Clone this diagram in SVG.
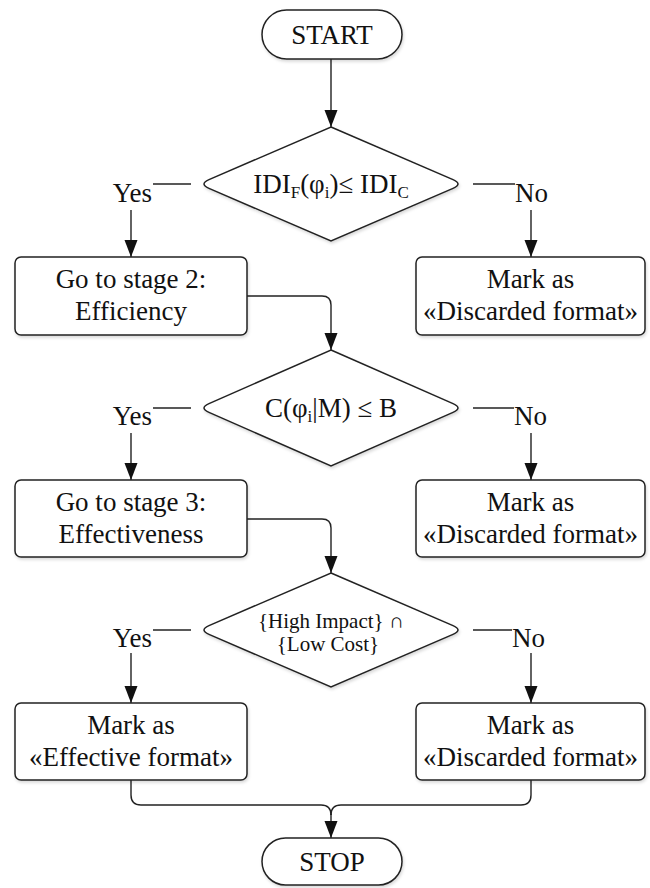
<svg xmlns="http://www.w3.org/2000/svg" width="650" height="888" viewBox="0 0 650 888">
<defs>
<marker id="arr" markerUnits="userSpaceOnUse" markerWidth="18" markerHeight="14" refX="17" refY="6.5" orient="auto">
<path d="M0,0 L17,6.5 L0,13 Z" fill="#111"/>
</marker>
<filter id="sh" x="-10%" y="-10%" width="120%" height="130%">
<feDropShadow dx="1" dy="2" stdDeviation="1.5" flood-color="#000" flood-opacity="0.15"/>
</filter>
</defs>
<style>
.shape{fill:#fff;stroke:#222;stroke-width:1.5;filter:url(#sh)}
text{font-family:'Liberation Serif','Tinos','DejaVu Serif',serif;fill:#111}
.t{font-size:27px;text-anchor:middle}
.s{font-size:17px}
.sm{font-size:21px;text-anchor:middle}
.lbl{font-size:27px}
.c{fill:none;stroke:#222;stroke-width:1.4}
.a{marker-end:url(#arr)}
</style>
<rect width="650" height="888" fill="#fff"/>

<g id="connectors">
<path class="c a" d="M331,59 V127"/>
<path class="c" d="M153,184 H191"/>
<path class="c a" d="M131,210 V257"/>
<path class="c" d="M473,184 H515"/>
<path class="c a" d="M531,210 V257"/>
<path class="c a" d="M247,296 H322 Q331,296 331,305 V350"/>
<path class="c" d="M153,408 H191"/>
<path class="c a" d="M131,433 V480"/>
<path class="c" d="M473,408 H514"/>
<path class="c a" d="M531,433 V480"/>
<path class="c a" d="M247,519 H322 Q331,519 331,528 V573"/>
<path class="c" d="M153,630 H191"/>
<path class="c a" d="M131,653 V703"/>
<path class="c" d="M473,630 H512"/>
<path class="c a" d="M531,653 V703"/>
<path class="c" d="M131,780 V795 Q131,805 141,805 H321 Q331,805 331,815"/>
<path class="c" d="M531,780 V795 Q531,805 521,805 H341 Q331,805 331,815"/>
<path class="c a" d="M331,814 V838"/>
</g>

<g id="labels">
<text class="lbl" x="152" y="202" text-anchor="end" font-family="Liberation Serif, serif">Yes</text>
<text class="lbl" x="515" y="202">No</text>
<text class="lbl" x="152" y="425" text-anchor="end">Yes</text>
<text class="lbl" x="514" y="425">No</text>
<text class="lbl" x="152" y="647" text-anchor="end">Yes</text>
<text class="lbl" x="512" y="647">No</text>
</g>

<g id="start">
<rect class="shape" x="262" y="10" width="140" height="49" rx="24.5"/>
<text class="t" x="332" y="44">START</text>
</g>

<g id="decision1">
<path class="shape" d="M331,127 L453,179.6 Q463,184 453,188.4 L331,241 L209,188.4 Q199,184 209,179.6 Z"/>
<text class="t" x="331" y="193">IDI<tspan class="s" dy="5">F</tspan><tspan dy="-5">(φ</tspan><tspan class="s" dy="5">i</tspan><tspan dy="-5">)≤ IDI</tspan><tspan class="s" dy="5">C</tspan></text>
</g>

<g id="stage2">
<rect class="shape" x="15" y="257" width="232" height="78" rx="6"/>
<text class="t" x="131" y="288">Go to stage 2:</text>
<text class="t" x="131" y="320">Efficiency</text>
</g>

<g id="discard1">
<rect class="shape" x="416" y="257" width="229" height="78" rx="6"/>
<text class="t" x="530.5" y="288">Mark as</text>
<text class="t" x="530.5" y="320">«Discarded format»</text>
</g>

<g id="decision2">
<path class="shape" d="M331,350 L453,403.6 Q463,408 453,412.4 L331,466 L209,412.4 Q199,408 209,403.6 Z"/>
<text class="t" x="331" y="417">C(φ<tspan class="s" dy="5">i</tspan><tspan dy="-5">|M) ≤ B</tspan></text>
</g>

<g id="stage3">
<rect class="shape" x="15" y="480" width="232" height="77" rx="6"/>
<text class="t" x="131" y="511">Go to stage 3:</text>
<text class="t" x="131" y="543">Effectiveness</text>
</g>

<g id="discard2">
<rect class="shape" x="416" y="480" width="229" height="77" rx="6"/>
<text class="t" x="530.5" y="511">Mark as</text>
<text class="t" x="530.5" y="543">«Discarded format»</text>
</g>

<g id="decision3">
<path class="shape" d="M331,573 L453,625.6 Q463,630 453,634.4 L331,687 L209,634.4 Q199,630 209,625.6 Z"/>
<text class="sm" x="331" y="628">{High Impact} ∩</text>
<text class="sm" x="328" y="651">{Low Cost}</text>
</g>

<g id="effective">
<rect class="shape" x="15" y="703" width="232" height="77" rx="6"/>
<text class="t" x="131" y="734">Mark as</text>
<text class="t" x="131" y="766">«Effective format»</text>
</g>

<g id="discard3">
<rect class="shape" x="416" y="703" width="229" height="77" rx="6"/>
<text class="t" x="530.5" y="734">Mark as</text>
<text class="t" x="530.5" y="766">«Discarded format»</text>
</g>

<g id="stop">
<rect class="shape" x="262" y="838" width="140" height="47" rx="23.5"/>
<text class="t" x="332" y="871">STOP</text>
</g>
</svg>
